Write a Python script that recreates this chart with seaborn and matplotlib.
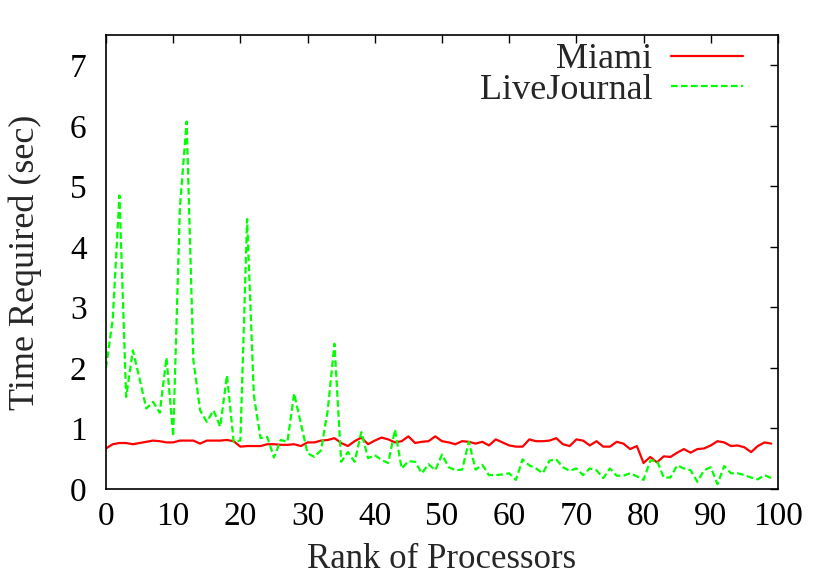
import numpy as np
import pandas as pd
import seaborn as sns
import matplotlib
matplotlib.use("Agg")
import matplotlib.pyplot as plt

# Rank of each processor (0..99)
ranks = list(range(100))

# Time required per rank
miami = [
    0.67, 0.74, 0.76, 0.76, 0.74, 0.76, 0.78, 0.80, 0.79, 0.77,
    0.77, 0.80, 0.80, 0.80, 0.75, 0.80, 0.80, 0.80, 0.81, 0.79,
    0.70, 0.71, 0.71, 0.71, 0.74, 0.74, 0.73, 0.73, 0.74, 0.71,
    0.77, 0.77, 0.80, 0.81, 0.84, 0.76, 0.71, 0.79, 0.85, 0.74,
    0.80, 0.85, 0.82, 0.77, 0.79, 0.87, 0.76, 0.78, 0.79, 0.87,
    0.79, 0.77, 0.74, 0.79, 0.78, 0.75, 0.78, 0.72, 0.82, 0.77,
    0.72, 0.70, 0.70, 0.82, 0.79, 0.79, 0.80, 0.84, 0.74, 0.71,
    0.82, 0.80, 0.72, 0.79, 0.70, 0.70, 0.78, 0.75, 0.66, 0.71,
    0.43, 0.53, 0.44, 0.54, 0.53, 0.60, 0.66, 0.60, 0.66, 0.67,
    0.72, 0.79, 0.77, 0.71, 0.72, 0.69, 0.61, 0.71, 0.77, 0.75,
]

livejournal = [
    2.00, 2.80, 4.85, 1.52, 2.29, 1.82, 1.33, 1.44, 1.26, 2.17,
    0.87, 4.65, 6.07, 2.13, 1.30, 1.11, 1.30, 1.03, 1.88, 0.78,
    0.80, 4.46, 1.55, 0.84, 0.86, 0.52, 0.81, 0.78, 1.58, 1.08,
    0.59, 0.53, 0.64, 1.30, 2.40, 0.45, 0.61, 0.45, 0.94, 0.51,
    0.56, 0.48, 0.43, 0.98, 0.34, 0.46, 0.45, 0.26, 0.41, 0.31,
    0.57, 0.36, 0.31, 0.32, 0.78, 0.32, 0.40, 0.23, 0.23, 0.24,
    0.26, 0.15, 0.49, 0.39, 0.34, 0.26, 0.47, 0.49, 0.36, 0.30,
    0.34, 0.23, 0.34, 0.31, 0.18, 0.34, 0.22, 0.22, 0.26, 0.21,
    0.15, 0.47, 0.47, 0.19, 0.19, 0.39, 0.34, 0.31, 0.12, 0.31,
    0.36, 0.08, 0.38, 0.26, 0.26, 0.23, 0.19, 0.16, 0.23, 0.18,
]

x_ticks = list(range(0, 101, 10))
y_ticks = list(range(0, 8))

# Long-form table for seaborn
df = pd.DataFrame({
    "rank": ranks * 2,
    "time": miami + livejournal,
    "graph": ["Miami"] * len(ranks) + ["LiveJournal"] * len(ranks),
})

sns.set_style("white")
plt.rcParams["font.family"] = ["Liberation Serif", "DejaVu Serif"]

fig = plt.figure(figsize=(8.3, 5.81), dpi=100)
ax = fig.add_axes([0.1277, 0.1583, 0.8096, 0.7815])

sns.lineplot(
    data=df, x="rank", y="time", hue="graph", style="graph",
    palette={"Miami": "#ff0000", "LiveJournal": "#00ff00"},
    dashes={"Miami": "", "LiveJournal": (3, 1.5)},
    linewidth=1.6, ax=ax,
)

ax.set_xlim(0, 100)
ax.set_ylim(0, 7.5)
ax.set_xticks(x_ticks)
ax.set_yticks(y_ticks)
ax.tick_params(direction="in", length=6, width=1, top=True, right=True,
               labelsize=24, colors="black")
ax.tick_params(axis="x", pad=9)
ax.tick_params(axis="y", pad=14)
for s in ax.spines.values():
    s.set_color("black")
    s.set_linewidth(1.2)

ax.set_xlabel("Rank of Processors", fontsize=25, labelpad=8)
ax.set_ylabel("Time Required (sec)", fontsize=26, labelpad=20)

leg = ax.legend(
    loc="upper right", bbox_to_anchor=(0.98, 1.03), frameon=False,
    markerfirst=False, fontsize=26, handlelength=2.0, handletextpad=0.5,
    labelspacing=-0.08, borderaxespad=0.2,
)

fig.savefig("out.png", dpi=100)
